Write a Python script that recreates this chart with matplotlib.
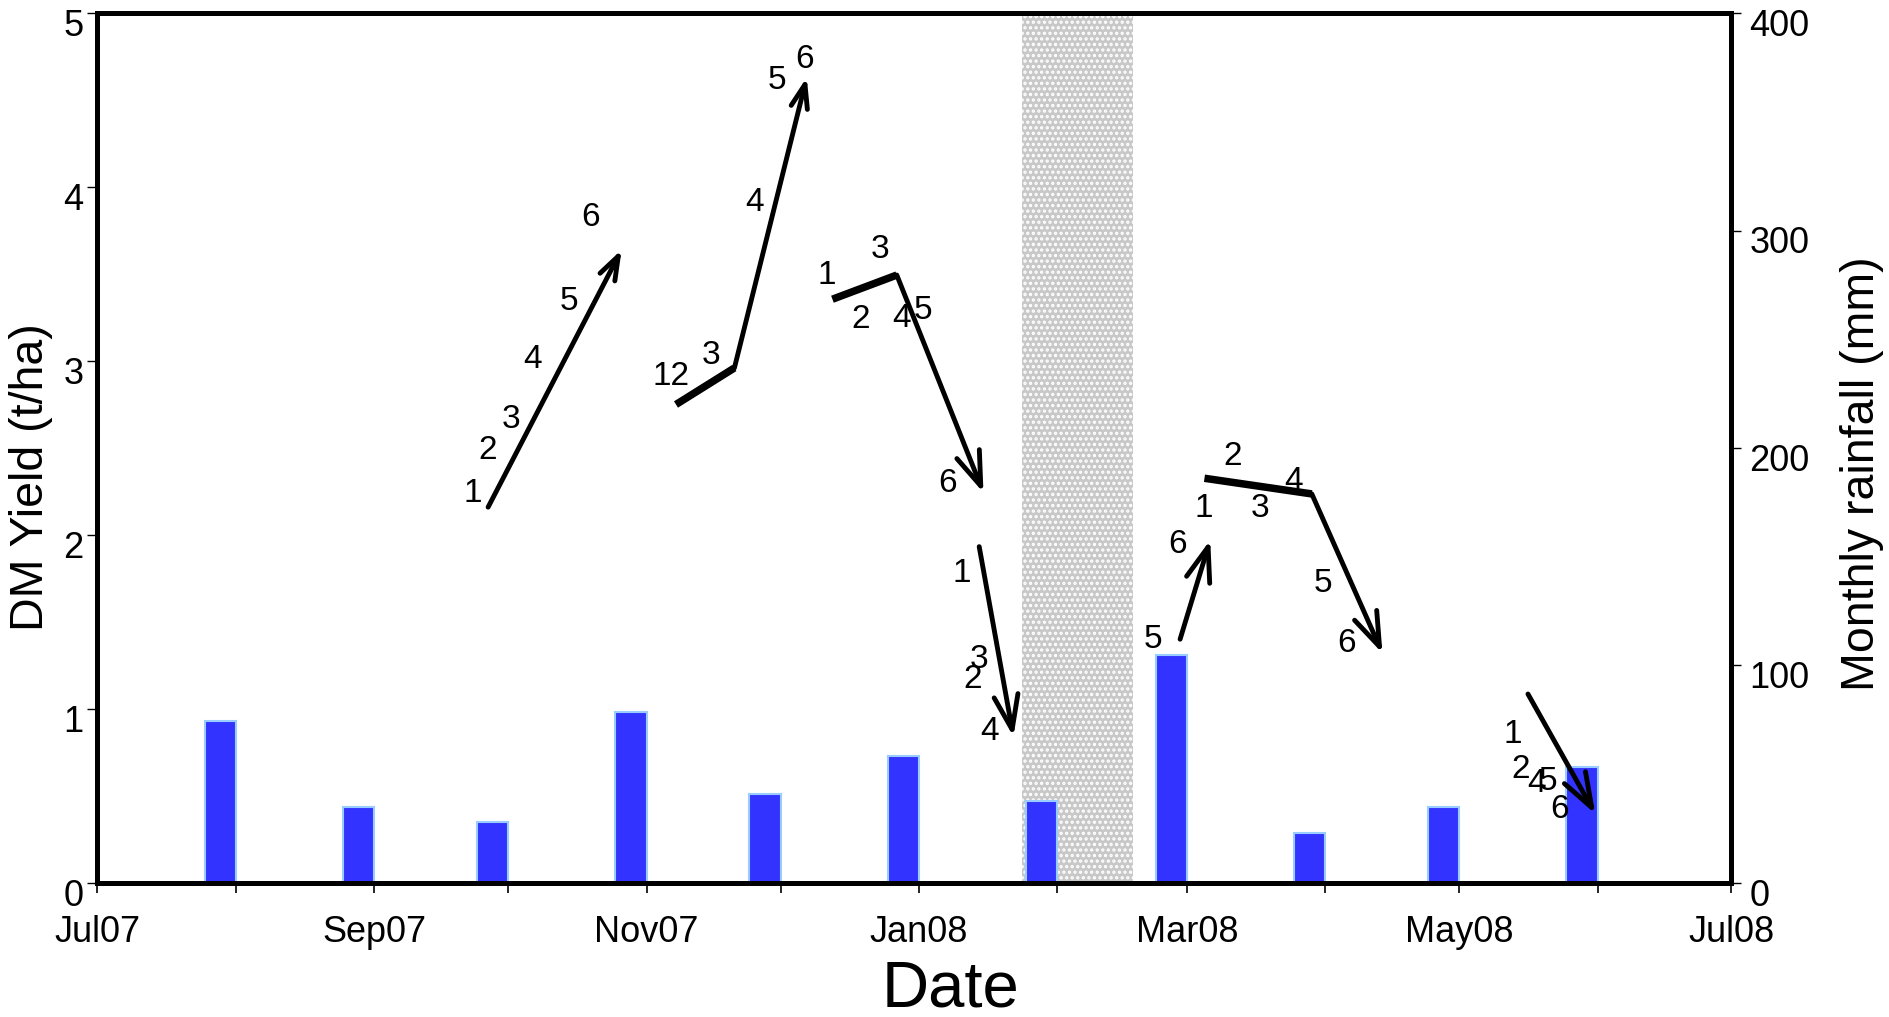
import matplotlib
matplotlib.use('Agg')
import matplotlib.pyplot as plt
import matplotlib.dates as mdates
from matplotlib.patches import ArrowStyle
from matplotlib.transforms import ScaledTranslation
import pandas as pd

plt.rcParams['font.family'] = ['Liberation Sans', 'DejaVu Sans']
plt.rcParams['hatch.linewidth'] = 1.6

# ---------------- data ----------------
# Monthly rainfall (mm); each bar ends at the first day of the following month
rain_months = ['Jul07', 'Aug07', 'Sep07', 'Oct07', 'Nov07', 'Dec07',
               'Jan08', 'Feb08', 'Mar08', 'Apr08', 'May08']
rain_bar_end = ['2007-08-01', '2007-09-01', '2007-10-01', '2007-11-01',
                '2007-12-01', '2008-01-01', '2008-02-01', '2008-03-01',
                '2008-04-01', '2008-05-01', '2008-06-01']
rain_mm = [74.6, 35.1, 28.2, 78.8, 40.8, 58.4, 37.9, 104.8, 23.1, 35.1, 53.5]

# shaded period
shade_period = ['2008-01-24', '2008-02-18']

# DM yield trajectories (t/ha): polyline vertices, last segment carries the arrow
traj_dates = [
    ['2007-09-26 12:00', '2007-10-26 10:00'],
    ['2007-11-07 14:00', '2007-11-20 16:00', '2007-12-06 21:00'],
    ['2007-12-12 15:00', '2007-12-27 01:00', '2008-01-15 11:00'],
    ['2008-01-14 12:00', '2008-01-22 04:00'],
    ['2008-02-28 12:00', '2008-03-06 06:00'],
    ['2008-03-04 23:00', '2008-03-29 00:00', '2008-04-13 20:00'],
    ['2008-05-16 10:00', '2008-05-31 12:00'],
]
traj_yield = [
    [2.16, 3.64],
    [2.75, 2.96, 4.63],
    [3.355, 3.494, 2.243],
    [1.933, 0.841],
    [1.401, 1.971],
    [2.326, 2.236, 1.320],
    [1.086, 0.397],
]

# numbered point labels
label_text = ['1', '2', '3', '4', '5', '6',
              '12', '3', '4', '5', '6',
              '1', '3', '2', '4', '5', '6',
              '1', '3', '2', '4',
              '5', '6',
              '1', '2', '3', '4', '5', '6',
              '1', '2', '4', '5', '6']
label_dates = ['2007-09-23 01:00', '2007-09-26 10:00', '2007-10-01 15:00',
               '2007-10-06 10:00', '2007-10-14 17:00', '2007-10-19 12:00',
               '2007-11-06 10:00', '2007-11-15 09:00', '2007-11-25 03:00',
               '2007-11-30 07:00', '2007-12-06 07:00',
               '2007-12-11 09:00', '2007-12-23 07:00', '2007-12-19 01:00',
               '2007-12-28 04:00', '2008-01-02 00:00', '2008-01-07 09:00',
               '2008-01-10 14:00', '2008-01-14 12:00', '2008-01-13 02:00',
               '2008-01-16 19:00',
               '2008-02-22 10:00', '2008-02-27 22:00',
               '2008-03-04 21:00', '2008-03-11 04:00', '2008-03-17 10:00',
               '2008-03-24 22:00', '2008-03-31 12:00', '2008-04-05 17:00',
               '2008-05-12 23:00', '2008-05-14 19:00', '2008-05-18 10:00',
               '2008-05-21 00:00', '2008-05-23 12:00']
label_yield = [2.240, 2.484, 2.665, 3.006, 3.343, 3.826,
               2.910, 3.030, 3.910, 4.615, 4.730,
               3.494, 3.638, 3.236, 3.245, 3.293, 2.297,
               1.780, 1.282, 1.167, 0.870,
               1.401, 1.948,
               2.153, 2.450, 2.153, 2.306, 1.722, 1.374,
               0.856, 0.653, 0.573, 0.582, 0.420]

x_range = ['2007-07-01', '2008-07-01']

# ---------------- styles ----------------
thick_first = [False, True, True, False, False, True, False]
head_scale = [20, 20, 29, 29, 29, 29, 29]


def dn(seq):
    return mdates.date2num(pd.to_datetime(seq).to_pydatetime())


fig = plt.figure(figsize=(18.89, 10.17), dpi=100)
ax = fig.add_axes([0.0516, 0.1318, 0.8650, 0.8554])
ax2 = ax.twinx()
ax.set_zorder(2)
ax2.set_zorder(1)
ax.patch.set_visible(False)

# shaded period
s0, s1 = dn(shade_period)
ax2.axvspan(s0, s1, facecolor='#c8c8c8', edgecolor='white', hatch='...',
            linewidth=0, zorder=0)

# rainfall bars
ax2.bar(dn(rain_bar_end), rain_mm, width=-7, align='edge',
        color='#3333ff', edgecolor='#99ccff', linewidth=1.5, zorder=2)

# trajectories
for k in range(len(traj_dates)):
    xs = dn(traj_dates[k])
    ys = traj_yield[k]
    for i in range(len(xs) - 2):
        lw = 5.4 if (i == 0 and thick_first[k]) else 3.5
        ax.plot(xs[i:i + 2], ys[i:i + 2], color='black', lw=lw,
                solid_capstyle='butt', zorder=3)
    ax.annotate('', xy=(xs[-1], ys[-1]), xytext=(xs[-2], ys[-2]),
                arrowprops=dict(arrowstyle=ArrowStyle('->', head_length=0.85,
                                                      head_width=0.3),
                                mutation_scale=head_scale[k], lw=3.5,
                                color='black', shrinkA=0, shrinkB=0),
                zorder=3)

lx = dn(label_dates)
for t, x, y in zip(label_text, lx, label_yield):
    ax.text(x, y, t, fontsize=24, ha='center', va='center', zorder=4)

# axes
xr = dn(x_range)
ax.set_xlim(xr[0], xr[1])
ax.set_ylim(0, 5)
ax2.set_ylim(0, 400)
ax.set_yticks([0, 1, 2, 3, 4, 5])
ax2.set_yticks([0, 100, 200, 300, 400])
ax.xaxis.set_major_locator(mdates.MonthLocator(bymonth=[1, 3, 5, 7, 9, 11]))
ax.xaxis.set_minor_locator(mdates.MonthLocator())
ax.xaxis.set_major_formatter(mdates.DateFormatter('%b%y'))

for a in (ax, ax2):
    for sp in a.spines.values():
        sp.set_linewidth(3.6)

ax.tick_params(axis='x', which='both', direction='out', length=7, width=1.2,
               labelsize=26, pad=16)
ax.tick_params(axis='y', direction='out', length=7, width=1.0,
               labelsize=26, pad=3)
ax2.tick_params(axis='y', direction='out', length=7, width=1.0,
                labelsize=26, pad=6)

up = ScaledTranslation(0, 3 / 72, fig.dpi_scale_trans)
for lab in ax.get_yticklabels() + ax2.get_yticklabels():
    lab.set_va('top')
    lab.set_transform(lab.get_transform() + up)

ax.set_xlabel('Date', fontsize=47)
ax.xaxis.set_label_coords(0.522, -0.088)
ax.set_ylabel('DM Yield (t/ha)', fontsize=33.5)
ax.yaxis.set_label_coords(-0.027, 0.466)
ax2.set_ylabel('Monthly rainfall (mm)', fontsize=33.5)
ax2.yaxis.set_label_coords(1.0664, 0.4707)

fig.savefig('out.png', dpi=100)
